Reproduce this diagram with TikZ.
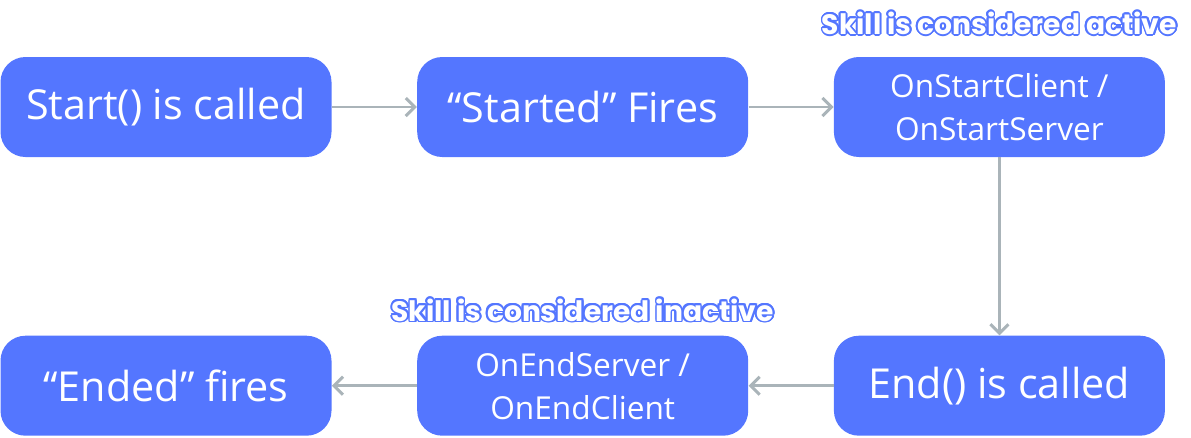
\documentclass[tikz,border=0pt]{standalone}
\usepackage{fontspec}
\setmainfont{Open Sans}
\newfontfamily\tagfont{Poppins}
\usepackage[copies]{contour}
\usetikzlibrary{positioning, shapes, arrows, arrows.meta}

\definecolor{stateblue}{RGB}{84,118,255}
\definecolor{flowgray}{RGB}{170,180,185}
\contourlength{1pt}

\tikzset{
  state/.style={fill=stateblue, text=white, rounded corners=0.5cm, minimum width=6.62cm, minimum height=2cm, align=center, font=\fontsize{23.5}{27}\selectfont},
  small/.style={font=\fontsize{18}{24.4}\selectfont},
  tag/.style={inner sep=0pt, text=white, font=\tagfont\bfseries\fontsize{16}{18}\selectfont},
  flow/.style={draw=flowgray, line width=1.7pt, -{Straight Barb[length=1.8mm, width=3.6mm]}}
}

\begin{document}
\begin{tikzpicture}[node distance=3.56cm and 1.7cm]
        \useasboundingbox (0,0) rectangle (23.82,-8.74);

        % States
        \node[state] (start) at (3.32,-2.14) {Start() is called};
        \node[state, right=of start] (started) {“Started” Fires};
        \node[state, small, right=of started] (onstart) {OnStartClient /\\OnStartServer};
        \node[state, below=of onstart] (end) {End() is called};
        \node[state, small, left=of end] (onend) {OnEndServer /\\OnEndClient};
        \node[state, left=of onend] (ended) {“Ended” fires};

        % Labels
        \node[tag, above=0.4cm of onstart] (active) {\contour{stateblue}{Skill is considered active}};
        \node[tag, above=0.24cm of onend] (inactive) {\contour{stateblue}{Skill is considered inactive}};

        % Transitions
        \draw[flow] (start) -- (started);
        \draw[flow] (started) -- (onstart);
        \draw[flow] (onstart) -- (end);
        \draw[flow] (end) -- (onend);
        \draw[flow] (onend) -- (ended);
    \end{tikzpicture}
\end{document}
